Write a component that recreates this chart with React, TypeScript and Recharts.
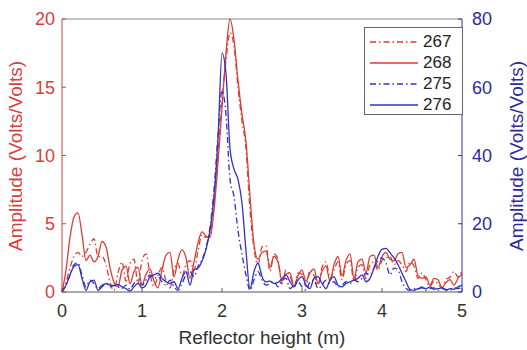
import React from 'react';
import { LineChart, Line, XAxis, YAxis, Legend, ReferenceLine, Label } from 'recharts';

// reflector height (m), sampled every 0.05 m
const heights = [
  0, 0.05, 0.1, 0.15, 0.2, 0.25, 0.3, 0.35, 0.4, 0.45, 0.5, 0.55, 0.6, 0.65, 0.7, 0.75, 0.8, 0.85, 0.9, 0.95,
  1, 1.05, 1.1, 1.15, 1.2, 1.25, 1.3, 1.35, 1.4, 1.45, 1.5, 1.55, 1.6, 1.65, 1.7, 1.75, 1.8, 1.85, 1.9, 1.95,
  2, 2.05, 2.1, 2.15, 2.2, 2.25, 2.3, 2.35, 2.4, 2.45, 2.5, 2.55, 2.6, 2.65, 2.7, 2.75, 2.8, 2.85, 2.9, 2.95,
  3, 3.05, 3.1, 3.15, 3.2, 3.25, 3.3, 3.35, 3.4, 3.45, 3.5, 3.55, 3.6, 3.65, 3.7, 3.75, 3.8, 3.85, 3.9, 3.95,
  4, 4.05, 4.1, 4.15, 4.2, 4.25, 4.3, 4.35, 4.4, 4.45, 4.5, 4.55, 4.6, 4.65, 4.7, 4.75, 4.8, 4.85, 4.9, 4.95, 5,
];

// left axis (red)
const s267 = [
  0, 0.7, 1.8, 2.6, 2.9, 2.6, 2.9, 3.5, 3.9, 2.6, 2.6, 2.0, 0.7, 0.1, 1.4, 2.2, 0.8, 2.1, 2.4, 0.6,
  2.3, 2.8, 1.3, 0.4, 1.2, 1.8, 0.8, 0.3, 1.6, 2.1, 1.2, 2.0, 2.3, 1.6, 3.0, 4.2, 4.0, 4.1, 6.5, 10.0,
  14.0, 17.0, 19.0, 18.0, 15.0, 12.5, 10.5, 6.0, 3.2, 2.0, 3.3, 3.4, 1.5, 2.8, 2.4, 0.6, 1.6, 1.2, 0.3, 1.4,
  1.3, 0.4, 1.6, 1.2, 0.5, 1.8, 2.2, 1.0, 1.6, 2.2, 0.9, 2.0, 2.3, 0.8, 1.8, 2.0, 1.0, 2.0, 2.2, 1.6,
  2.3, 2.5, 2.6, 2.0, 2.3, 2.0, 1.5, 2.2, 1.9, 1.0, 1.4, 0.9, 0.4, 0.8, 0.6, 0.3, 0.9, 1.1, 1.5, 1.1, 1.6,
];
const s268 = [
  0, 1.6, 4.0, 5.5, 5.8, 4.2, 2.3, 2.7, 2.2, 2.6, 3.7, 3.3, 1.8, 0.7, 0.4, 1.6, 1.9, 0.6, 1.5, 1.8,
  0.5, 1.3, 1.7, 0.8, 0.3, 1.6, 2.7, 2.9, 1.1, 2.4, 3.1, 2.5, 1.0, 2.2, 3.6, 4.4, 4.1, 4.0, 6.0, 9.5,
  13.5, 17.5, 20.0, 18.5, 15.5, 13.0, 11.0, 7.0, 3.5, 2.4, 2.9, 3.0, 1.8, 2.6, 2.2, 0.8, 1.3, 1.4, 0.4, 1.2,
  1.6, 0.8, 1.4, 1.7, 0.6, 1.5, 1.9, 0.8, 2.0, 2.6, 1.2, 2.3, 2.8, 1.0, 2.2, 2.4, 1.4, 2.6, 2.7, 1.8,
  2.6, 2.9, 2.4, 2.3, 2.8, 2.9, 1.8, 2.0, 2.4, 1.2, 1.0, 1.1, 0.5, 1.0, 0.9, 0.3, 0.7, 0.9, 0.5, 1.0, 1.3,
];

// right axis (blue)
const s275 = [
  0, 2, 5, 8, 8.5, 5, 1.5, 3.5, 2.5, 1.0, 2.0, 2.5, 1.5, 2.0, 1.5, 1.0, 2.0, 0.8, 2.5, 3.5,
  2.0, 3.5, 5.0, 4.0, 4.5, 3.0, 2.0, 3.5, 1.5, 0.5, 2.5, 5.0, 6.0, 4.5, 7.5, 9.5, 13.0, 19.0, 30.0, 46.0,
  59.0, 52.0, 33.0, 28.0, 18.0, 11.0, 5.0, 0.5, 3.5, 6.0, 3.5, 2.0, 2.5, 3.0, 1.5, 3.5, 4.0, 1.0, 2.0, 3.0,
  1.5, 0.5, 3.0, 3.5, 1.0, 2.0, 3.5, 2.5, 3.0, 1.5, 2.0, 3.0, 2.5, 3.5, 3.0, 4.0, 5.5, 5.0, 7.0, 9.0,
  10.0, 8.5, 5.0, 7.0, 6.5, 3.0, 1.0, 0.5, 1.0, 0.8, 1.5, 0.5, 1.0, 1.2, 0.5, 1.0, 0.8, 0.5, 1.2, 1.0, 1.5,
];
const s276 = [
  0, 2, 5, 7.5, 8, 4, 0.5, 3, 3.5, 0.5, 1.5, 2.5, 2, 1.8, 2.2, 1.5, 1.0, 0.3, 1.5, 2.5,
  1.2, 2.0, 4.5, 5.0, 5.5, 4.0, 3.0, 2.5, 3.0, 1.0, 4.0, 6.0, 2.0, 6.5, 7.0, 9.0, 12.5, 18.0, 28.0, 45.0,
  70.0, 64.0, 42.0, 36.0, 33.0, 26.0, 12.0, 1.0, 6.0, 8.5, 4.5, 3.0, 3.2, 2.5, 2.8, 4.0, 5.0, 3.0, 1.5, 3.5,
  4.5, 2.0, 1.0, 4.0, 4.5, 2.5, 1.0, 3.5, 4.5, 2.0, 1.5, 2.5, 3.0, 3.5, 4.0, 5.0, 3.0, 4.0, 7.0, 10.5,
  12.5, 12.8, 11.5, 10.0, 8.0, 5.5, 3.0, 0.8, 0.5, 1.0, 1.2, 1.0, 1.5, 0.8, 1.0, 1.2, 0.5, 1.0, 0.8, 1.5, 2.0,
];

const xTicks = [0, 1, 2, 3, 4, 5];
const leftTicks = [0, 5, 10, 15, 20];
const rightTicks = [0, 20, 40, 60, 80];

const RED = '#dd3c33';
const BLUE = '#3131c8';
const FONT = '"Liberation Sans", Arial, sans-serif';

const series = [
  { key: 's267', name: '267', color: RED, dash: '6 3 1.5 3', axis: 'left' },
  { key: 's268', name: '268', color: RED, dash: undefined, axis: 'left' },
  { key: 's275', name: '275', color: BLUE, dash: '6 3 1.5 3', axis: 'right' },
  { key: 's276', name: '276', color: BLUE, dash: undefined, axis: 'right' },
];

const data = heights.map((h, i) => ({
  h,
  s267: s267[i],
  s268: s268[i],
  s275: s275[i],
  s276: s276[i],
}));

const LegendBox = () => (
  <div
    style={{
      width: 99,
      height: 88,
      border: '1px solid #666',
      background: '#fff',
      boxSizing: 'border-box',
      paddingTop: 3,
      fontFamily: FONT,
      fontSize: 17,
      color: '#222',
    }}
  >
    {series.map((s) => (
      <div key={s.key} style={{ display: 'flex', alignItems: 'center', height: 21 }}>
        <svg width={56} height={10}>
          <line x1={5} x2={53} y1={5} y2={5} stroke={s.color} strokeWidth={1.3} strokeDasharray={s.dash} />
        </svg>
        <span style={{ marginLeft: 2 }}>{s.name}</span>
      </div>
    ))}
  </div>
);

export default function App() {
  return (
    <div style={{ position: 'absolute', left: 0, top: 0, background: '#fff' }}>
      <LineChart width={527} height={350} data={data} margin={{ top: 19, right: 0, bottom: 0, left: 0 }}>
        <XAxis
          dataKey="h"
          type="number"
          domain={[0, 5]}
          ticks={xTicks}
          height={58}
          stroke="#555"
          tickSize={-4}
          tickMargin={16}
          tick={{ fill: '#333', fontSize: 18, fontFamily: FONT }}
        >
          <Label
            content={() => (
              <text x={262} y={344} textAnchor="middle" fill="#333" fontSize={19} fontFamily={FONT}>
                Reflector height (m)
              </text>
            )}
          />
        </XAxis>
        <YAxis
          yAxisId="left"
          orientation="left"
          domain={[0, 20]}
          ticks={leftTicks}
          width={62}
          stroke="#c9433b"
          tickSize={-4}
          tickMargin={11}
          tick={{ fill: '#d8403a', fontSize: 18, fontFamily: FONT }}
        >
          <Label
            content={() => (
              <text
                x={22}
                y={156}
                transform="rotate(-90, 22, 156)"
                textAnchor="middle"
                fill="#d8403a"
                fontSize={19}
                fontFamily={FONT}
              >
                Amplitude (Volts/Volts)
              </text>
            )}
          />
        </YAxis>
        <YAxis
          yAxisId="right"
          orientation="right"
          domain={[0, 80]}
          ticks={rightTicks}
          width={65}
          stroke="#33339e"
          tickSize={-4}
          tickMargin={14}
          tick={{ fill: '#2b2b9e', fontSize: 18, fontFamily: FONT }}
        >
          <Label
            content={() => (
              <text
                x={523}
                y={156}
                transform="rotate(-90, 523, 156)"
                textAnchor="middle"
                fill="#2b2b9e"
                fontSize={19}
                fontFamily={FONT}
              >
                Amplitude (Volts/Volts)
              </text>
            )}
          />
        </YAxis>
        <ReferenceLine yAxisId="left" y={20} stroke="#888" strokeWidth={1} />
        {series.map((s) => (
          <Line
            key={s.key}
            yAxisId={s.axis}
            dataKey={s.key}
            name={s.name}
            type="monotone"
            stroke={s.color}
            strokeWidth={1.3}
            strokeDasharray={s.dash}
            dot={false}
            activeDot={false}
            isAnimationActive={false}
          />
        ))}
        <Legend
          layout="vertical"
          align="center"
          verticalAlign="middle"
          content={() => <LegendBox />}
          wrapperStyle={{ left: 364, top: 27, width: 99 }}
        />
      </LineChart>
    </div>
  );
}
